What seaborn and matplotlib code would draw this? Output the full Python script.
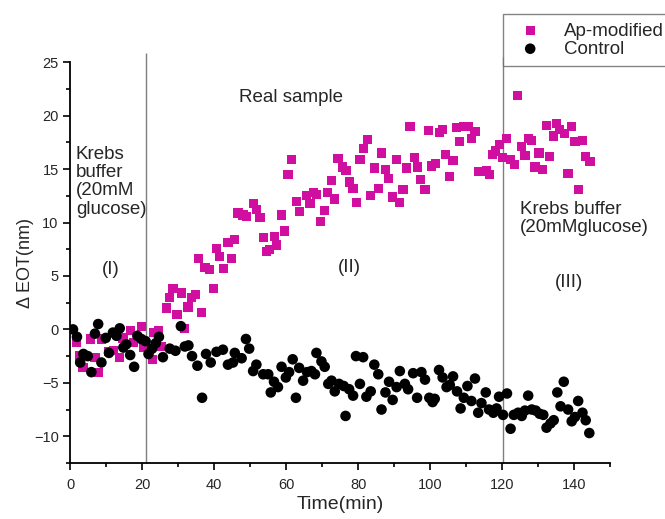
import numpy as np
import pandas as pd
import seaborn as sns
from matplotlib import pyplot as plt
from matplotlib.ticker import MultipleLocator

# Ap-modified series (time in min, delta EOT in nm)
ap_time = [1.7, 2.6, 3.5, 5.6, 6.8, 7.8, 8.6, 10.5, 11.9, 13.7, 14.6, 16.6, 17.6, 19.7, 20.2,
           22.9, 23.0, 24.4, 25.4, 26.7, 27.6, 28.5, 29.6, 30.9, 31.8, 32.7, 33.7, 34.7, 35.5,
           36.5, 37.4, 38.7, 39.7, 40.6, 41.5, 42.5, 43.8, 44.8, 45.7, 46.6, 48.0, 49.0, 50.8,
           51.7, 52.7, 53.6, 54.5, 55.4, 56.8, 57.3, 58.7, 59.6, 60.5, 61.5, 62.9, 63.8, 65.6,
           66.6, 67.5, 68.4, 69.6, 70.6, 71.5, 72.6, 73.5, 74.4, 75.7, 76.6, 77.5, 78.6, 79.6,
           80.5, 81.4, 82.6, 83.5, 84.6, 85.6, 86.5, 87.7, 88.5, 89.6, 90.7, 91.6, 92.5, 93.5,
           94.4, 95.6, 96.5, 97.4, 98.6, 99.5, 100.4, 101.6, 102.7, 103.5, 104.4, 105.5, 106.4,
           107.4, 108.3, 109.2, 110.6, 111.5, 112.5, 113.4, 114.8, 115.6, 116.5, 117.4, 118.2,
           119.4, 120.2, 121.3, 122.4, 123.6, 124.3, 125.4, 126.4, 127.3, 128.2, 129.2, 130.3,
           131.3, 132.4, 133.3, 134.3, 135.2, 136.1, 137.5, 138.4, 139.4, 140.3, 141.2, 142.4,
           143.3, 144.5]
ap_eot = [-1.2, -2.5, -3.6, -0.9, -2.6, -4.0, -0.9, -2.1, -2.0, -2.6, -0.8, -0.1, -1.2, 0.3, -1.7,
          -2.8, -0.3, -0.1, -1.6, 2.0, 3.0, 3.8, 1.4, 3.4, 0.1, 2.1, 3.0, 3.3, 6.6,
          1.6, 5.8, 5.6, 3.8, 7.6, 6.8, 5.7, 8.1, 6.6, 8.4, 10.9, 10.7, 10.6, 11.8,
          11.2, 10.5, 8.6, 7.3, 7.5, 8.7, 7.9, 10.7, 9.2, 14.5, 15.9, 12.0, 11.0, 12.5,
          11.8, 12.8, 12.6, 10.1, 11.1, 12.8, 13.9, 12.2, 16.0, 15.2, 14.9, 13.8, 13.2, 11.9,
          15.9, 16.9, 17.8, 12.5, 15.1, 13.2, 16.5, 15.0, 14.1, 12.4, 15.9, 11.9, 13.1, 15.1,
          19.0, 16.1, 15.2, 14.0, 13.1, 18.6, 15.3, 15.5, 18.4, 18.7, 16.4, 14.3, 15.8,
          18.9, 17.6, 19.0, 19.0, 17.9, 18.5, 14.8, 14.8, 14.9, 14.5, 16.4, 16.7,
          17.3, 16.1, 17.9, 15.9, 15.4, 21.9, 17.1, 16.3, 17.9, 17.7, 15.2, 16.5,
          15.0, 19.1, 16.2, 18.1, 19.3, 18.7, 18.3, 14.6, 19.0, 17.6, 13.1, 17.7,
          16.2, 15.7]

# Control series
ctrl_time = [0.7, 1.8, 2.7, 3.6, 4.8, 5.8, 6.8, 7.7, 8.6, 9.8, 10.7, 11.8, 12.8, 13.7, 14.7,
             15.5, 16.6, 17.7, 18.6, 19.7, 20.9, 21.7, 22.7, 23.7, 24.6, 25.7, 27.6, 29.2, 30.7,
             31.8, 32.8, 33.8, 35.3, 36.6, 37.7, 39.0, 40.6, 42.4, 43.8, 45.2, 45.7, 47.6, 48.8,
             49.7, 50.8, 51.7, 53.6, 55.0, 55.7, 56.6, 57.7, 58.7, 59.9, 60.8, 61.8, 62.7, 63.6,
             64.7, 65.8, 67.0, 68.0, 68.4, 69.8, 70.7, 71.7, 72.6, 73.5, 74.7, 76.0, 76.5, 77.5,
             78.6, 79.4, 80.5, 81.4, 82.3, 83.5, 84.5, 85.6, 86.5, 87.6, 88.6, 89.6, 90.7, 91.6,
             93.0, 93.9, 95.3, 96.4, 97.6, 98.6, 99.8, 100.7, 101.3, 102.5, 103.5, 104.6, 105.5,
             106.4, 107.5, 108.5, 109.4, 110.4, 111.5, 112.5, 113.4, 114.3, 115.5, 116.4, 117.6,
             118.5, 119.2, 120.3, 121.4, 122.4, 123.3, 124.5, 125.5, 126.4, 127.3, 128.3, 129.4,
             130.5, 131.5, 132.4, 133.5, 134.4, 135.4, 136.3, 137.2, 138.4, 139.4, 140.3, 141.2,
             142.4, 143.3, 144.3]
ctrl_eot = [0.0, -0.7, -3.1, -2.3, -2.5, -4.0, -0.4, 0.5, -3.1, -0.8, -2.2, -0.3, -0.6, 0.1, -1.7,
            -1.4, -2.4, -3.5, -0.6, -0.9, -1.1, -2.3, -1.8, -1.3, -0.7, -2.6, -1.8, -2.0, 0.3,
            -1.6, -1.5, -2.5, -3.4, -6.4, -2.3, -3.1, -2.1, -1.9, -3.3, -3.1, -2.2, -2.7, -0.9,
            -1.8, -3.9, -3.3, -4.2, -4.2, -5.9, -4.9, -5.4, -3.5, -4.5, -4.0, -2.8, -6.4, -3.6,
            -4.8, -4.0, -3.9, -4.2, -2.2, -3.0, -3.5, -5.1, -4.8, -5.8, -5.1, -5.3, -8.1, -5.6,
            -6.2, -2.5, -5.1, -2.6, -6.3, -5.8, -3.3, -4.2, -7.5, -5.9, -4.9, -6.6, -5.4, -3.9,
            -5.1, -5.6, -4.1, -6.4, -4.0, -4.7, -6.4, -6.8, -6.5, -3.8, -4.5, -5.4, -5.2,
            -4.4, -5.8, -7.4, -6.4, -5.3, -6.7, -4.6, -7.8, -6.9, -5.9, -7.5, -7.8,
            -7.4, -6.3, -8.0, -6.0, -9.3, -8.0, -7.8, -8.1, -7.6, -6.2, -7.5, -7.6,
            -7.9, -8.0, -9.2, -8.8, -8.5, -5.9, -7.2, -4.9, -7.5, -8.6, -8.2, -6.7,
            -7.8, -8.5, -9.7]

# buffer switch times
switch_times = [20.9, 120.3]

sns.set_style('ticks')
plt.rcParams['font.family'] = ['Liberation Sans', 'DejaVu Sans']

fig = plt.figure(figsize=(6.65, 5.19), dpi=100)
ax = fig.add_axes([0.106, 0.108, 0.811, 0.772])

ap_df = pd.DataFrame({'Time': ap_time, 'EOT': ap_eot})
ctrl_df = pd.DataFrame({'Time': ctrl_time, 'EOT': ctrl_eot})

sns.scatterplot(data=ap_df, x='Time', y='EOT', marker='s', s=44, color='#d00ea0',
                edgecolor='none', label='Ap-modified', ax=ax, zorder=3)
sns.scatterplot(data=ctrl_df, x='Time', y='EOT', marker='o', s=58, color='black',
                edgecolor='none', label='Control', ax=ax, zorder=3)

ax.vlines(switch_times[0], -12.5, 25.9, color='#7f7f7f', lw=1, clip_on=False, zorder=1)
ax.vlines(switch_times[1], -12.5, 25.5, color='#7f7f7f', lw=1, clip_on=False, zorder=1)

ax.set_xlim(0, 150)
ax.set_ylim(-12.5, 25)
ax.xaxis.set_major_locator(MultipleLocator(20))
ax.xaxis.set_minor_locator(MultipleLocator(10))
ax.yaxis.set_major_locator(MultipleLocator(5))
ax.yaxis.set_minor_locator(MultipleLocator(2.5))
ax.tick_params(which='major', direction='out', length=5, width=1.2, labelsize=10.5, color='black')
ax.tick_params(which='minor', direction='out', length=3, width=1.2, color='black')
ax.tick_params(axis='x', which='major', pad=6)
for side in ['top', 'right']:
    ax.spines[side].set_visible(False)
for side in ['left', 'bottom']:
    ax.spines[side].set_linewidth(1.3)
    ax.spines[side].set_color('black')

ax.set_xlabel('Time(min)', fontsize=14, labelpad=3)
ax.set_ylabel('Δ EOT(nm)', fontsize=13, labelpad=0)

ax.text(1.5, 17.2, 'Krebs\nbuffer\n(20mM\nglucose)', fontsize=13.5, va='top', ha='left',
        linespacing=1.1)
ax.text(47.0, 21.7, 'Real sample', fontsize=13.5, va='center', ha='left')
ax.text(125.0, 12.0, 'Krebs buffer\n(20mMglucose)', fontsize=13.5, va='top', ha='left',
        linespacing=1.1)
ax.text(11.2, 5.6, '(I)', fontsize=13.5, ha='center', va='center')
ax.text(77.5, 5.8, '(II)', fontsize=13.5, ha='center', va='center')
ax.text(138.6, 4.4, '(III)', fontsize=13.5, ha='center', va='center')

leg = ax.legend(loc='upper left', bbox_to_anchor=(503 / 665, 1 - 14 / 519),
                bbox_transform=fig.transFigure, fontsize=13.5, frameon=True, fancybox=False,
                borderaxespad=0, handletextpad=0.8, borderpad=0.45, labelspacing=0.05,
                markerscale=1.0)
leg.get_frame().set_edgecolor('#666666')
leg.get_frame().set_linewidth(1.0)

fig.savefig('out.png', dpi=100)
